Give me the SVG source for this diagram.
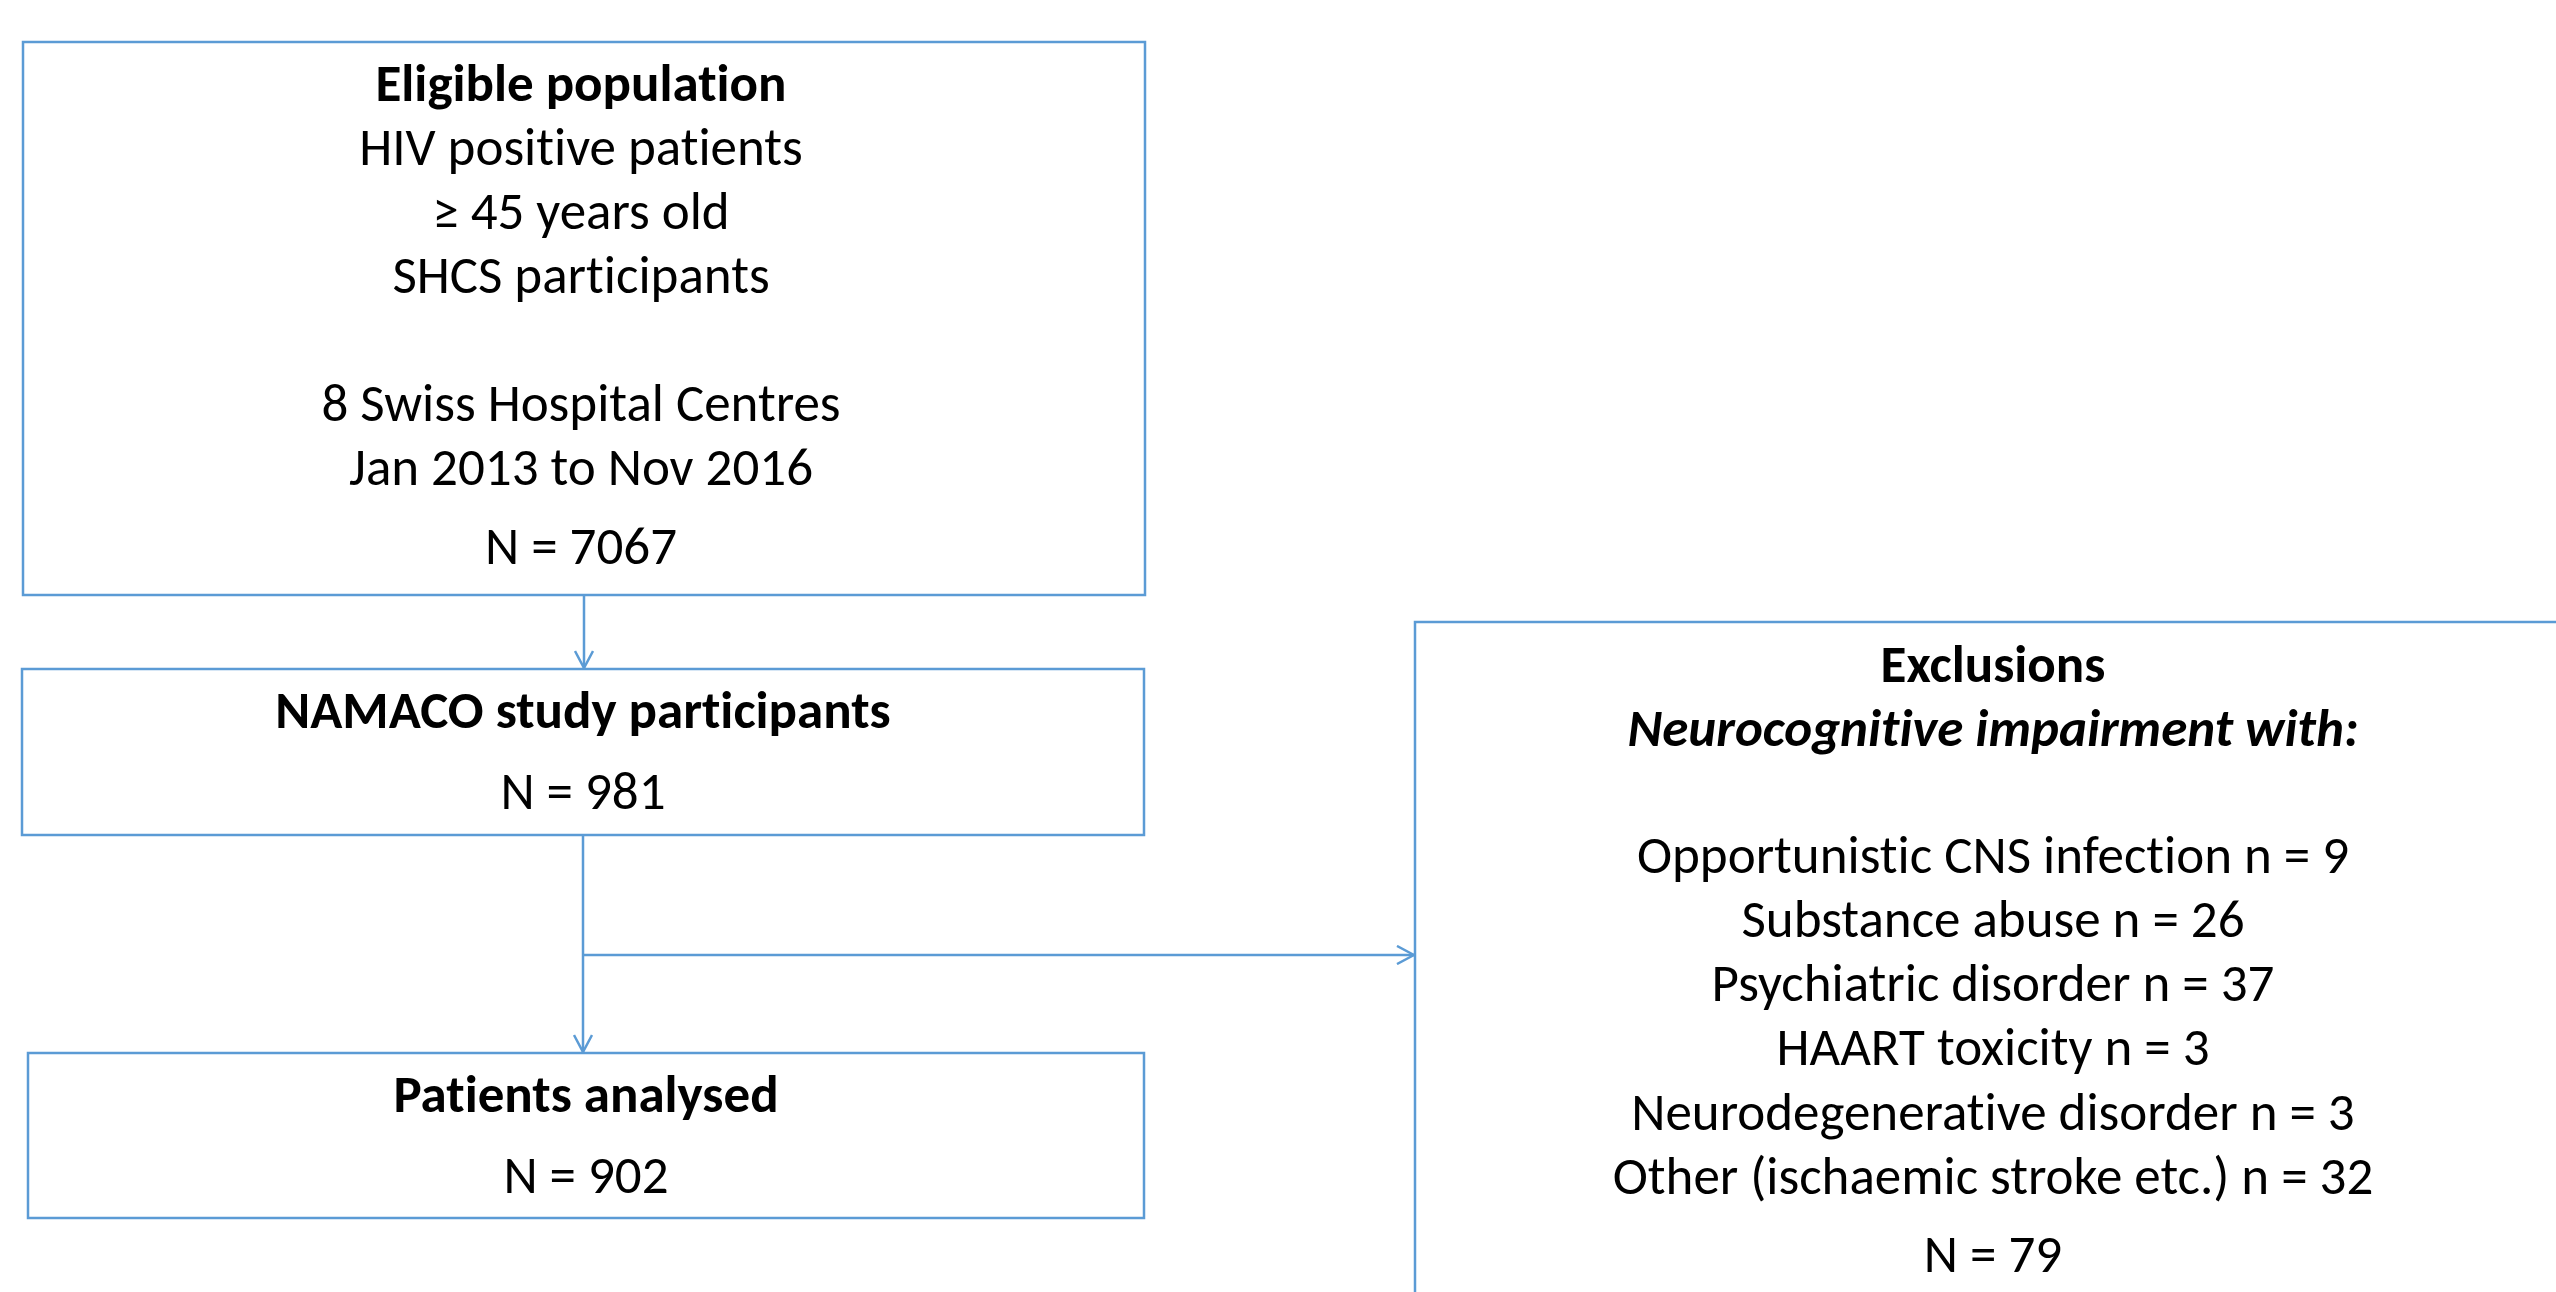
<svg xmlns="http://www.w3.org/2000/svg" width="2556" height="1292" viewBox="0 0 2556 1292">
<style>
.box{fill:#fff;stroke:#5B9BD5;stroke-width:2.5}
.conn{stroke:#5B9BD5;stroke-width:2.5;fill:none}
text{font-family:Carlito,Calibri,Lato,"Liberation Sans",sans-serif;font-size:53px;fill:#000;text-anchor:middle;font-variant-ligatures:none;font-feature-settings:"liga" 0}
.b{font-weight:bold}
.bi{font-weight:bold;font-style:italic}
</style>
<defs>
<marker id="arr" viewBox="0 0 20 20" refX="18" refY="10" markerWidth="20" markerHeight="20" markerUnits="userSpaceOnUse" orient="auto">
<path d="M1,1 L18,10 L1,19" fill="none" stroke="#5B9BD5" stroke-width="2.5"/>
</marker>
</defs>
<rect width="2556" height="1292" fill="#fff"/>
<g id="connectors">
<line class="conn" x1="584" y1="595" x2="584" y2="668" marker-end="url(#arr)"/>
<line class="conn" x1="583" y1="836" x2="583" y2="1052" marker-end="url(#arr)"/>
<line class="conn" x1="583" y1="955" x2="1414" y2="955" marker-end="url(#arr)"/>
</g>
<g id="eligible">
<rect class="box" x="23" y="42" width="1122" height="553"/>
<text class="b" x="581" y="101">Eligible population</text>
<text x="581" y="165">HIV positive patients</text>
<text x="581" y="229">≥ 45 years old</text>
<text x="581" y="293">SHCS participants</text>
<text x="581" y="421">8 Swiss Hospital Centres</text>
<text x="581" y="485">Jan 2013 to Nov 2016</text>
<text x="581" y="564">N = 7067</text>
</g>
<g id="namaco">
<rect class="box" x="22" y="669" width="1122" height="166"/>
<text class="b" x="583" y="728">NAMACO study participants</text>
<text x="583" y="809">N = 981</text>
</g>
<g id="analysed">
<rect class="box" x="28" y="1053" width="1116" height="165"/>
<text class="b" x="586" y="1112">Patients analysed</text>
<text x="586" y="1193">N = 902</text>
</g>
<g id="exclusions">
<rect class="box" x="1415" y="622" width="1170" height="800"/>
<text class="b" x="1993" y="682">Exclusions</text>
<text class="bi" x="1993" y="746">Neurocognitive impairment with:</text>
<text x="1993" y="873">Opportunistic CNS infection n = 9</text>
<text x="1993" y="937">Substance abuse n = 26</text>
<text x="1993" y="1001">Psychiatric disorder n = 37</text>
<text x="1993" y="1065">HAART toxicity n = 3</text>
<text x="1993" y="1130">Neurodegenerative disorder n = 3</text>
<text x="1993" y="1194">Other (ischaemic stroke etc.) n = 32</text>
<text x="1993" y="1272">N = 79</text>
</g>
</svg>
